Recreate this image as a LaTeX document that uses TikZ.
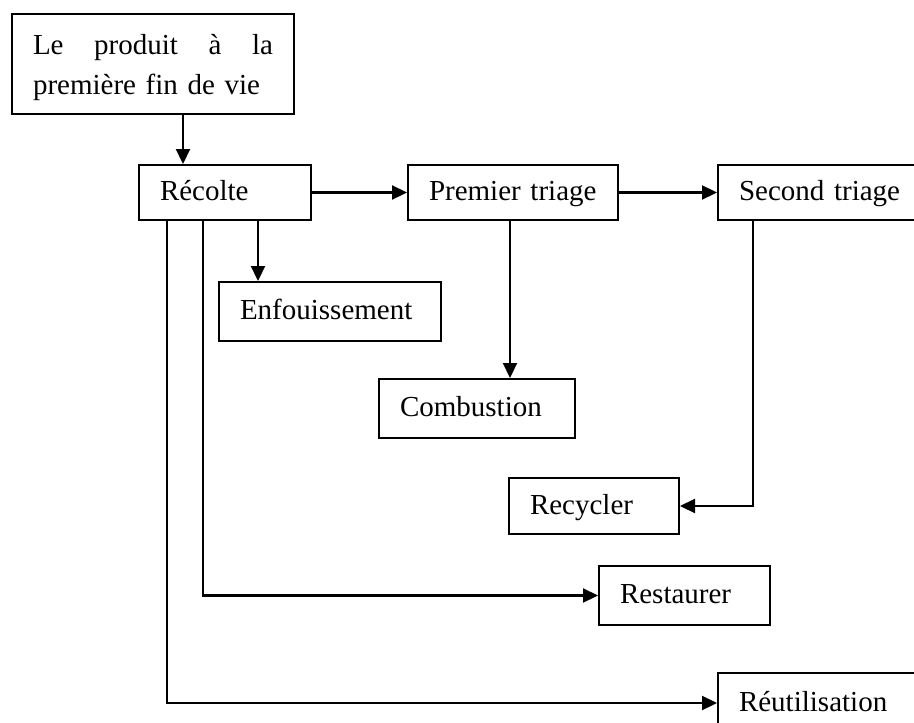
\documentclass[tikz,border=0pt]{standalone}
\usepackage{fontspec}
\setmainfont{Liberation Serif}
\usetikzlibrary{arrows.meta,positioning,calc}

\begin{document}
\begin{tikzpicture}[
  x=1pt, y=-1pt,
  etape/.style={draw, line width=2pt, anchor=north west, inner xsep=21pt, inner ysep=0pt, align=left,
    font=\fontsize{29}{40}\selectfont, execute at begin node=\strut},
  fl/.style={-{Triangle[length=15pt,width=14pt]}, line width=2.2pt},
]
\useasboundingbox (0,0) rectangle (914,723);

\node[etape, text width=240pt, minimum height=100pt] (prod) at (11,13) {Le\hfill produit\hfill à\hfill la\\première fin de vie};

\node[etape, text width=130pt, minimum height=55pt] (recolte) at (138,164) {Récolte};
\node[etape, text width=168pt, minimum height=55pt] (premier) at (407,164) {Premier triage};
\node[etape, text width=164pt, minimum height=55pt] (second) at (717,164) {Second triage};

\node[etape, text width=180pt, minimum height=59pt] (enfou) at (218,281) {Enfouissement};
\node[etape, text width=154pt, minimum height=59pt] (combu) at (378,378) {Combustion};
\node[etape, text width=128pt, minimum height=56pt] (recycl) at (508,477) {Recycler};
\node[etape, text width=129pt, minimum height=59pt] (restau) at (598,565) {Restaurer};
\node[etape, text width=164pt, minimum height=60pt] (reutil) at (717,672) {Réutilisation};

% liaisons
\draw[fl] ([xshift=172pt]prod.south west) -- ([xshift=172pt]prod.south west |- recolte.north);
\draw[fl] (recolte.east) -- (premier.west);
\draw[fl] (premier.east) -- (second.west);
\draw[fl] ([xshift=120pt]recolte.south west) -- ([xshift=120pt]recolte.south west |- enfou.north);
\draw[fl] ([xshift=103pt]premier.south west) -- ([xshift=103pt]premier.south west |- combu.north);
\draw[fl] ([xshift=36pt]second.south west) |- (recycl.east);
\draw[fl] ([xshift=65pt]recolte.south west) |- (restau.west);
\draw[fl] ([xshift=29pt]recolte.south west) |- (reutil.west);

\end{tikzpicture}
\end{document}
